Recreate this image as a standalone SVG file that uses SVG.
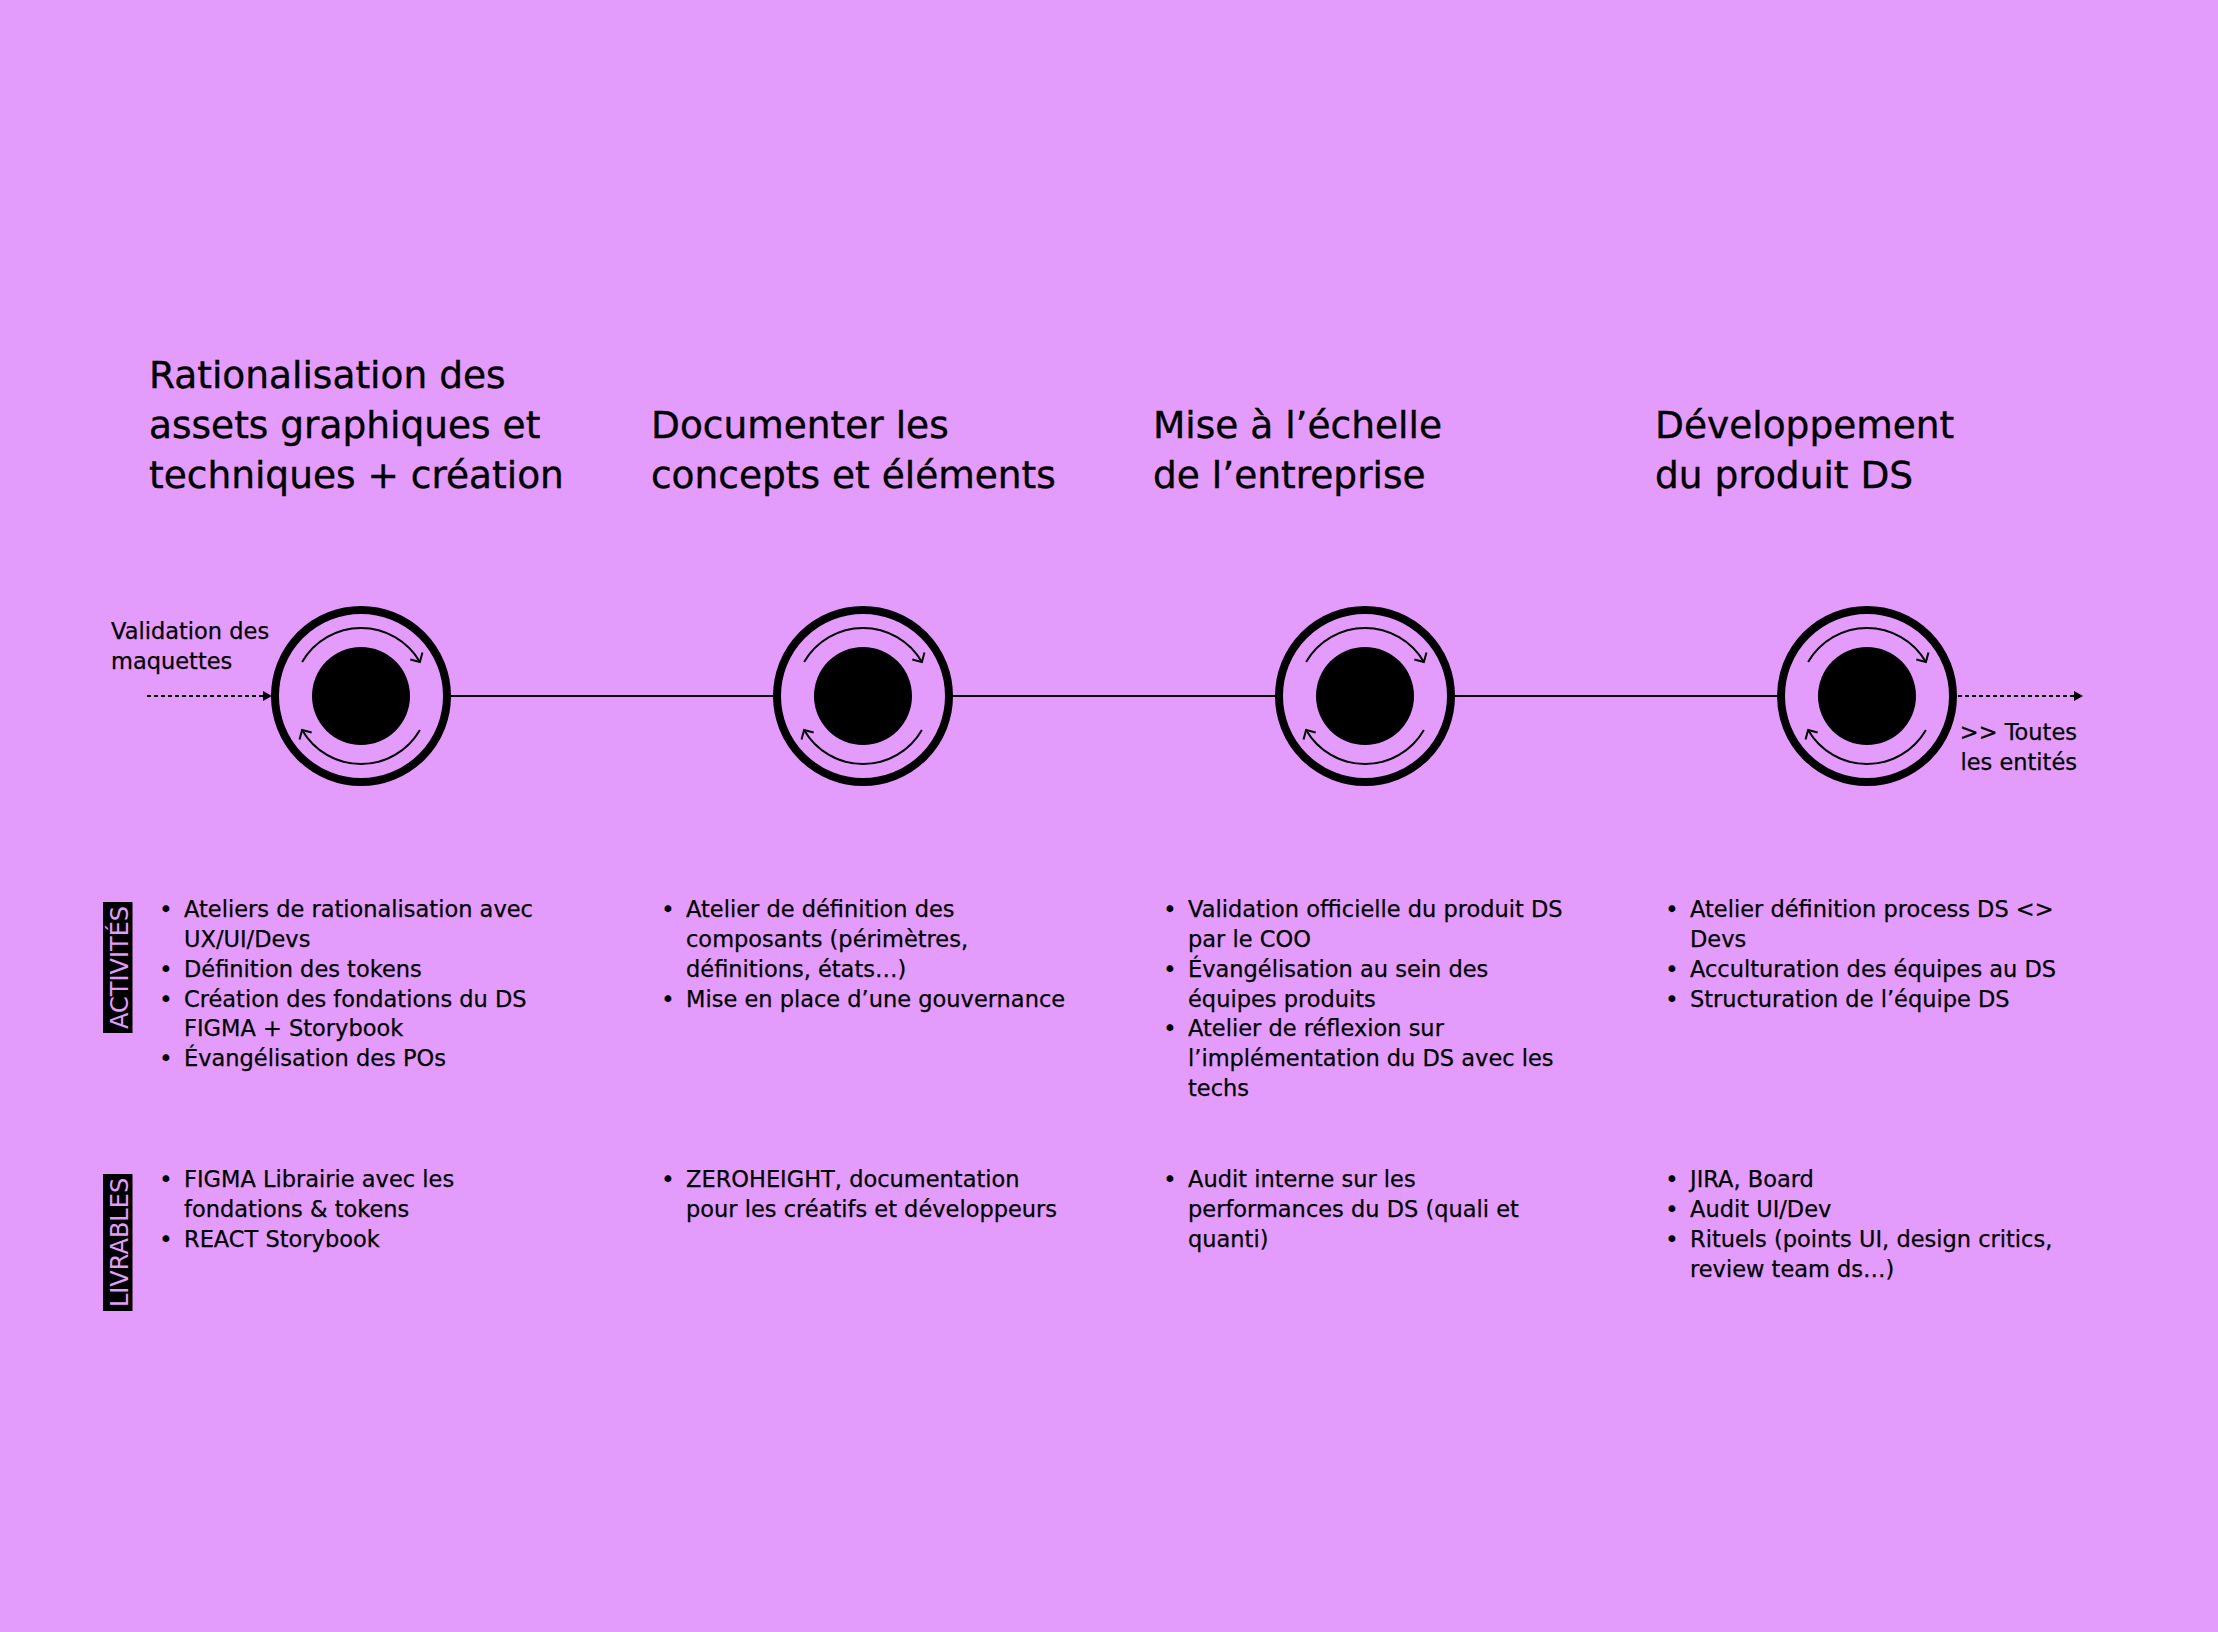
<svg xmlns="http://www.w3.org/2000/svg" width="2218" height="1632" viewBox="0 0 2218 1632">
<defs>
<style>
.t{font-family:"DejaVu Sans","Liberation Sans",sans-serif;fill:#000}
.title{font-size:37.5px;stroke:#000;stroke-width:0.4}
.body{font-size:22.5px;stroke:#000;stroke-width:0.25}
.lab{font-size:24px;fill:#E39BFC;stroke:none}
.ring{fill:none;stroke:#000;stroke-width:8}
.disc{fill:#000}
.cyc{fill:none;stroke:#000;stroke-width:2}
.line{stroke:#000;stroke-width:2.2;fill:none}
.dot{stroke:#000;stroke-width:2;stroke-dasharray:4 3;fill:none}
</style>
<marker id="chev" markerUnits="userSpaceOnUse" markerWidth="12" markerHeight="16" refX="7" refY="7" orient="auto" overflow="visible">
<path d="M0,0 L7,7 L0,14" fill="none" stroke="#000" stroke-width="2"/>
</marker>
<marker id="tri" markerUnits="userSpaceOnUse" markerWidth="10" markerHeight="10" refX="9" refY="5" orient="auto">
<path d="M0,0 L9,5 L0,10 Z" fill="#000"/>
</marker>
</defs>
<rect width="2218" height="1632" fill="#E39BFC"/>

<g id="connectors">
<line class="dot" x1="147" y1="696" x2="272" y2="696" marker-end="url(#tri)"/>
<line class="line" x1="451" y1="696" x2="773" y2="696"/>
<line class="line" x1="953" y1="696" x2="1275" y2="696"/>
<line class="line" x1="1455" y1="696" x2="1777" y2="696"/>
<line class="dot" x1="1958" y1="696" x2="2083" y2="696" marker-end="url(#tri)"/>
</g>

<g id="node1">
<circle class="ring" cx="361" cy="696" r="86"/>
<circle class="disc" cx="361" cy="696" r="49"/>
<path class="cyc" d="M302.1,662 A68,68 0 0 1 419.9,662" marker-end="url(#chev)"/>
<path class="cyc" d="M419.9,730 A68,68 0 0 1 302.1,730" marker-end="url(#chev)"/>
</g>
<g id="node2">
<circle class="ring" cx="863" cy="696" r="86"/>
<circle class="disc" cx="863" cy="696" r="49"/>
<path class="cyc" d="M804.1,662 A68,68 0 0 1 921.9,662" marker-end="url(#chev)"/>
<path class="cyc" d="M921.9,730 A68,68 0 0 1 804.1,730" marker-end="url(#chev)"/>
</g>
<g id="node3">
<circle class="ring" cx="1365" cy="696" r="86"/>
<circle class="disc" cx="1365" cy="696" r="49"/>
<path class="cyc" d="M1306.1,662 A68,68 0 0 1 1423.9,662" marker-end="url(#chev)"/>
<path class="cyc" d="M1423.9,730 A68,68 0 0 1 1306.1,730" marker-end="url(#chev)"/>
</g>
<g id="node4">
<circle class="ring" cx="1867" cy="696" r="86"/>
<circle class="disc" cx="1867" cy="696" r="49"/>
<path class="cyc" d="M1808.1,662 A68,68 0 0 1 1925.9,662" marker-end="url(#chev)"/>
<path class="cyc" d="M1925.9,730 A68,68 0 0 1 1808.1,730" marker-end="url(#chev)"/>
</g>

<g id="start-label">
<text class="t body" x="111" y="639">Validation des</text>
<text class="t body" x="111" y="669">maquettes</text>
</g>
<g id="end-label">
<text class="t body" x="2077" y="740" text-anchor="end">&gt;&gt; Toutes</text>
<text class="t body" x="2077" y="770" text-anchor="end">les entités</text>
</g>

<g id="titles">
<text class="t title" x="149" y="388">Rationalisation des</text>
<text class="t title" x="149" y="438">assets graphiques et</text>
<text class="t title" x="149" y="488">techniques + création</text>
<text class="t title" x="651" y="438">Documenter les</text>
<text class="t title" x="651" y="488">concepts et éléments</text>
<text class="t title" x="1153" y="438">Mise à l’échelle</text>
<text class="t title" x="1153" y="488">de l’entreprise</text>
<text class="t title" x="1655" y="438">Développement</text>
<text class="t title" x="1655" y="488">du produit DS</text>
</g>

<g id="label-activites">
<rect x="103" y="902" width="29.5" height="131" fill="#000"/>
<text class="t lab" transform="translate(127.5,967.5) rotate(-90)" text-anchor="middle">ACTIVITÉS</text>
</g>
<g id="label-livrables">
<rect x="103" y="1174" width="29.5" height="137" fill="#000"/>
<text class="t lab" transform="translate(127.5,1242.5) rotate(-90)" text-anchor="middle">LIVRABLES</text>
</g>

<g id="col1">
<text class="t body" x="166" y="917" text-anchor="middle">•</text>
<text class="t body" x="184" y="917">Ateliers de rationalisation avec</text>
<text class="t body" x="184" y="947">UX/UI/Devs</text>
<text class="t body" x="166" y="977" text-anchor="middle">•</text>
<text class="t body" x="184" y="977">Définition des tokens</text>
<text class="t body" x="166" y="1007" text-anchor="middle">•</text>
<text class="t body" x="184" y="1007">Création des fondations du DS</text>
<text class="t body" x="184" y="1036">FIGMA + Storybook</text>
<text class="t body" x="166" y="1066" text-anchor="middle">•</text>
<text class="t body" x="184" y="1066">Évangélisation des POs</text>
<text class="t body" x="166" y="1187" text-anchor="middle">•</text>
<text class="t body" x="184" y="1187">FIGMA Librairie avec les</text>
<text class="t body" x="184" y="1217">fondations &amp; tokens</text>
<text class="t body" x="166" y="1247" text-anchor="middle">•</text>
<text class="t body" x="184" y="1247">REACT Storybook</text>
</g>

<g id="col2">
<text class="t body" x="668" y="917" text-anchor="middle">•</text>
<text class="t body" x="686" y="917">Atelier de définition des</text>
<text class="t body" x="686" y="947">composants (périmètres,</text>
<text class="t body" x="686" y="977">définitions, états…)</text>
<text class="t body" x="668" y="1007" text-anchor="middle">•</text>
<text class="t body" x="686" y="1007">Mise en place d’une gouvernance</text>
<text class="t body" x="668" y="1187" text-anchor="middle">•</text>
<text class="t body" x="686" y="1187">ZEROHEIGHT, documentation</text>
<text class="t body" x="686" y="1217">pour les créatifs et développeurs</text>
</g>

<g id="col3">
<text class="t body" x="1170" y="917" text-anchor="middle">•</text>
<text class="t body" x="1188" y="917">Validation officielle du produit DS</text>
<text class="t body" x="1188" y="947">par le COO</text>
<text class="t body" x="1170" y="977" text-anchor="middle">•</text>
<text class="t body" x="1188" y="977">Évangélisation au sein des</text>
<text class="t body" x="1188" y="1007">équipes produits</text>
<text class="t body" x="1170" y="1036" text-anchor="middle">•</text>
<text class="t body" x="1188" y="1036">Atelier de réflexion sur</text>
<text class="t body" x="1188" y="1066">l’implémentation du DS avec les</text>
<text class="t body" x="1188" y="1096">techs</text>
<text class="t body" x="1170" y="1187" text-anchor="middle">•</text>
<text class="t body" x="1188" y="1187">Audit interne sur les</text>
<text class="t body" x="1188" y="1217">performances du DS (quali et</text>
<text class="t body" x="1188" y="1247">quanti)</text>
</g>

<g id="col4">
<text class="t body" x="1672" y="917" text-anchor="middle">•</text>
<text class="t body" x="1690" y="917">Atelier définition process DS &lt;&gt;</text>
<text class="t body" x="1690" y="947">Devs</text>
<text class="t body" x="1672" y="977" text-anchor="middle">•</text>
<text class="t body" x="1690" y="977">Acculturation des équipes au DS</text>
<text class="t body" x="1672" y="1007" text-anchor="middle">•</text>
<text class="t body" x="1690" y="1007">Structuration de l’équipe DS</text>
<text class="t body" x="1672" y="1187" text-anchor="middle">•</text>
<text class="t body" x="1690" y="1187">JIRA, Board</text>
<text class="t body" x="1672" y="1217" text-anchor="middle">•</text>
<text class="t body" x="1690" y="1217">Audit UI/Dev</text>
<text class="t body" x="1672" y="1247" text-anchor="middle">•</text>
<text class="t body" x="1690" y="1247">Rituels (points UI, design critics,</text>
<text class="t body" x="1690" y="1277">review team ds…)</text>
</g>
</svg>
